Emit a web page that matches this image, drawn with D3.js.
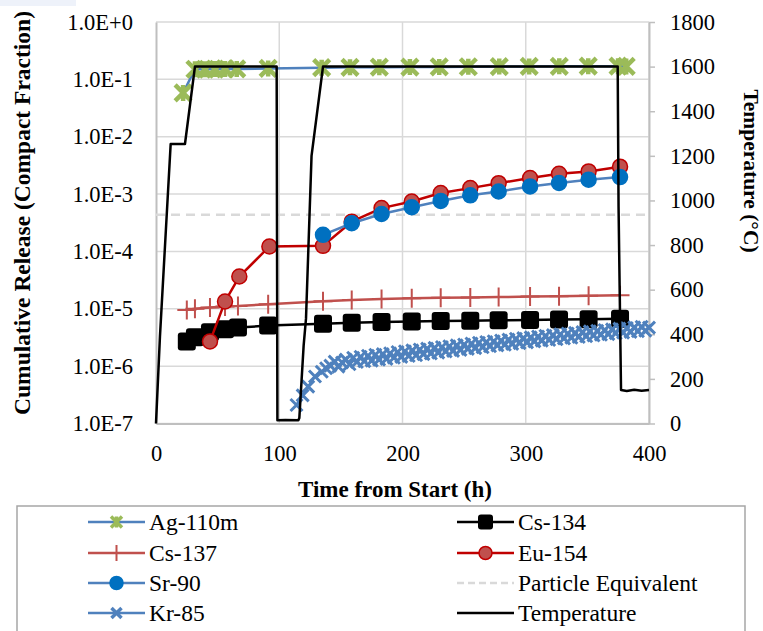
<!DOCTYPE html>
<html>
<head>
<meta charset="utf-8">
<script src="https://cdn.jsdelivr.net/npm/d3@7/dist/d3.min.js"></script>
<style>
  html, body { margin: 0; padding: 0; background: #fff; }
  svg { display: block; }
  text { font-family: "Liberation Serif", "DejaVu Serif", serif; fill: #000; }
</style>
</head>
<body>
<svg id="chart" width="763" height="631"></svg>
<script>
// ---- tick values ----
const timeTicks = [0, 100, 200, 300, 400];
const releaseTicks = [1e-7, 1e-6, 1e-5, 1e-4, 1e-3, 1e-2, 1e-1, 1e0];
const tempTicks = [0, 200, 400, 600, 800, 1000, 1200, 1400, 1600, 1800];

// ---- release series (cumulative compact fraction) ----
const ag110mTime  = [22, 31.6, 39.8, 47.9, 56, 65.5, 91, 134.4, 157.4, 181.2, 206, 229.8, 253.4, 278.5, 302.8, 327.2, 350.7, 374.9, 381.5];
const ag110mValue = [0.058, 0.15, 0.15, 0.151, 0.152, 0.152, 0.155, 0.16, 0.162, 0.163, 0.164, 0.165, 0.166, 0.167, 0.168, 0.169, 0.17, 0.17, 0.168];

const cs134Time  = [25, 31.6, 43.8, 56, 66.5, 91, 135.5, 158.8, 183, 207.5, 231, 255, 278, 303.5, 327, 351, 376.5];
const cs134Value = [2.7e-6, 3.2e-6, 3.9e-6, 4.4e-6, 4.7e-6, 5.1e-6, 5.5e-6, 5.7e-6, 5.9e-6, 6.0e-6, 6.1e-6, 6.2e-6, 6.3e-6, 6.4e-6, 6.5e-6, 6.6e-6, 6.7e-6];

const cs137Time  = [25, 31.6, 43.8, 56, 66.5, 91, 135.5, 158.8, 183, 207.5, 231, 255, 278, 303.5, 327, 351, 376.5];
const cs137Value = [9.5e-6, 1.0e-5, 1.05e-5, 1.1e-5, 1.12e-5, 1.2e-5, 1.35e-5, 1.42e-5, 1.48e-5, 1.52e-5, 1.55e-5, 1.58e-5, 1.6e-5, 1.63e-5, 1.66e-5, 1.68e-5, 1.72e-5];

const eu154Time  = [43.8, 56, 67.6, 92, 135.5, 158.8, 183, 207.5, 231, 255, 278, 303.5, 327, 351, 376.5];
const eu154Value = [2.7e-6, 1.34e-5, 3.65e-5, 1.22e-4, 1.25e-4, 3.3e-4, 5.7e-4, 7.4e-4, 1.04e-3, 1.27e-3, 1.55e-3, 1.9e-3, 2.26e-3, 2.48e-3, 3.0e-3];

const sr90Time  = [135.5, 158.8, 183, 207.5, 231, 255, 278, 303.5, 327, 351, 376.5];
const sr90Value = [1.95e-4, 3.1e-4, 4.5e-4, 5.9e-4, 7.6e-4, 9.5e-4, 1.11e-3, 1.36e-3, 1.56e-3, 1.78e-3, 1.98e-3];

const particleEquivTime  = [0, 400];
const particleEquivValue = [4.35e-4, 4.35e-4];

const kr85Time = [114, 119, 123.5, 129, 134.5, 138, 141.5, 145, 148, 151, 154, 157, 160, 163, 166, 169, 172, 175, 178, 181,
  184, 187, 190, 193, 196, 199, 202, 205, 208, 211, 214, 217, 220, 223, 226, 229, 232, 235, 238, 241,
  244, 247, 250, 253, 256, 259, 262, 265, 268, 271, 274, 277, 280, 283, 286, 289, 292, 295, 298, 301,
  304, 307, 310, 313, 316, 319, 322, 325, 328, 331, 334, 337, 340, 343, 346, 349, 352, 355, 358, 361,
  364, 367, 370, 373, 376, 379, 382, 385, 388, 391, 394, 397, 400];
// values in units of 1e-6
const kr85Micro = [0.21, 0.31, 0.44, 0.66, 0.80, 0.92, 1.02, 1.20, 0.98, 1.16, 1.30, 1.08, 1.40, 1.18, 1.46, 1.22, 1.52, 1.25, 1.58, 1.30,
  1.62, 1.34, 1.68, 1.40, 1.76, 1.45, 1.82, 1.50, 1.88, 1.55, 1.95, 1.62, 2.02, 1.66, 2.08, 1.72, 2.16, 1.80, 2.22, 1.85,
  2.30, 1.92, 2.38, 2.00, 2.48, 2.06, 2.56, 2.14, 2.64, 2.22, 2.72, 2.30, 2.80, 2.36, 2.90, 2.44, 3.00, 2.52, 3.08, 2.60,
  3.18, 2.70, 3.28, 2.78, 3.38, 2.86, 3.48, 2.95, 3.60, 3.04, 3.70, 3.12, 3.80, 3.22, 3.92, 3.32, 4.04, 3.42, 4.14, 3.52,
  4.26, 3.62, 4.38, 3.74, 4.50, 3.84, 4.62, 3.95, 4.74, 4.06, 4.86, 4.15, 4.70];

// ---- furnace temperature (secondary axis, °C) ----
const tempTime  = [0, 3.2, 11.9, 23.5, 31.6, 97.9, 98.5, 105, 115.5, 116.3, 119.8, 121.7, 126.2, 135.5, 374.6, 375.3, 377.3, 382, 388, 394, 400];
const tempValue = [0, 389, 1253, 1253, 1600, 1600, 15, 16, 15, 25, 350, 470, 1200, 1600, 1600, 972, 150, 146, 151, 147, 150];

const legendLabels = ["Ag-110m", "Cs-134", "Cs-137", "Eu-154", "Sr-90", "Particle Equivalent", "Kr-85", "Temperature"];

// ---- layout ----
const svg = d3.select("#chart");
const plotL = 156, plotR = 649, plotT = 22, plotB = 423.5;
const FONT = '"Liberation Serif", "DejaVu Serif", serif';

const x = d3.scaleLinear().domain([0, 400]).range([plotL, plotR]);
const y = d3.scaleLog().domain([1e-7, 1]).range([plotB, plotT]);
const yT = d3.scaleLinear().domain([0, 1800]).range([plotB, plotT]);

svg.append("rect").attr("width", 763).attr("height", 631).attr("fill", "#fff");
svg.append("rect").attr("x", 0).attr("y", 0).attr("width", 76).attr("height", 6).attr("fill", "#eef2fa");

// gridlines
const grid = svg.append("g").attr("stroke", "#d9d9d9").attr("stroke-width", 1.5);
grid.selectAll("line.h").data(releaseTicks).join("line").attr("class", "h")
  .attr("x1", plotL).attr("x2", plotR).attr("y1", d => y(d)).attr("y2", d => y(d));
grid.selectAll("line.v").data(timeTicks.slice(1)).join("line").attr("class", "v")
  .attr("x1", d => x(d)).attr("x2", d => x(d)).attr("y1", plotT).attr("y2", plotB);

// axes
const fmtExp = d => {
  const e = Math.round(Math.log10(d));
  return "1.0E" + (e >= 0 ? "+" + e : String(e));
};
const gL = svg.append("g").attr("transform", `translate(${plotL},0)`)
  .call(d3.axisLeft(y).tickValues(releaseTicks).tickFormat(fmtExp).tickSize(0).tickPadding(23));
const gB = svg.append("g").attr("transform", `translate(0,${plotB})`)
  .call(d3.axisBottom(x).tickValues(timeTicks).tickFormat(d3.format("d")).tickSize(0).tickPadding(22));
const gR = svg.append("g").attr("transform", `translate(${plotR},0)`)
  .call(d3.axisRight(yT).tickValues(tempTicks).tickFormat(d3.format("d")).tickSizeInner(6).tickSizeOuter(0).tickPadding(15));
[gL, gB, gR].forEach(g => {
  g.attr("font-family", FONT);
  g.select(".domain").attr("stroke", "#bfbfbf").attr("stroke-width", 2);
  g.selectAll(".tick line").attr("stroke", "#bfbfbf").attr("stroke-width", 1.5);
  g.selectAll("text").style("font-family", FONT).attr("font-size", 22.5).attr("fill", "#000");
});
gB.selectAll("text").attr("dy", "0.71em");

// axis titles
svg.append("text").attr("x", 395).attr("y", 497).attr("text-anchor", "middle").style("font-family", FONT)
  .attr("font-size", 23).attr("font-weight", "bold").text("Time from Start (h)");
svg.append("text").attr("transform", "translate(30,213) rotate(-90)").attr("text-anchor", "middle").style("font-family", FONT)
  .attr("font-size", 23.5).attr("font-weight", "bold").text("Cumulative Release (Compact Fraction)");
svg.append("text").attr("transform", "translate(744,171) rotate(90)").attr("text-anchor", "middle").style("font-family", FONT)
  .attr("font-size", 21.5).attr("font-weight", "bold").text("Temperature (°C)");

// ---- marker drawers ----
function starMark(g, cx, cy, s, color, sw) {
  g.append("path").attr("d", `M${cx - s},${cy - s}L${cx + s},${cy + s}M${cx - s},${cy + s}L${cx + s},${cy - s}M${cx},${cy - s}L${cx},${cy + s}`)
    .attr("stroke", color).attr("stroke-width", sw).attr("fill", "none");
}
function xMark(g, cx, cy, s, color, sw) {
  g.append("path").attr("d", `M${cx - s},${cy - s}L${cx + s},${cy + s}M${cx - s},${cy + s}L${cx + s},${cy - s}`)
    .attr("stroke", color).attr("stroke-width", sw).attr("fill", "none");
}
function plusMark(g, cx, cy, s, color, sw) {
  g.append("path").attr("d", `M${cx - s},${cy}L${cx + s},${cy}M${cx},${cy - s}L${cx},${cy + s}`)
    .attr("stroke", color).attr("stroke-width", sw).attr("fill", "none");
}
function squareMark(g, cx, cy, s) {
  g.append("rect").attr("x", cx - s).attr("y", cy - s).attr("width", 2 * s).attr("height", 2 * s)
    .attr("rx", 3).attr("fill", "#000");
}
function circleMark(g, cx, cy, r, fill, stroke) {
  g.append("circle").attr("cx", cx).attr("cy", cy).attr("r", r).attr("fill", fill)
    .attr("stroke", stroke).attr("stroke-width", 1.5);
}

const line = d3.line().x(d => x(d[0])).y(d => y(d[1]));
const zip = (a, b) => a.map((t, i) => [t, b[i]]);
const plot = svg.append("g");

// particle equivalent
plot.append("path").datum(zip(particleEquivTime, particleEquivValue)).attr("d", line)
  .attr("fill", "none").attr("stroke", "#d9d9d9").attr("stroke-width", 2.5).attr("stroke-dasharray", "9,6");

// Ag-110m
const agData = zip(ag110mTime, ag110mValue);
plot.append("path").datum(agData).attr("d", line).attr("fill", "none").attr("stroke", "#4f81bd").attr("stroke-width", 2.5);
agData.forEach(d => starMark(plot, x(d[0]), y(d[1]), 8, "#9bbb59", 4.5));

// Cs-134
const cs134Data = zip(cs134Time, cs134Value);
plot.append("path").datum(cs134Data).attr("d", line).attr("fill", "none").attr("stroke", "#000").attr("stroke-width", 2.5);
cs134Data.forEach(d => squareMark(plot, x(d[0]), y(d[1]), 9));

// Cs-137
const cs137Data = zip(cs137Time, cs137Value);
plot.append("path").datum(cs137Data).attr("d", line).attr("fill", "none").attr("stroke", "#c0504d").attr("stroke-width", 2.5);
cs137Data.forEach(d => plusMark(plot, x(d[0]), y(d[1]), 9.5, "#c0504d", 2));

// Eu-154
const euData = zip(eu154Time, eu154Value);
plot.append("path").datum(euData).attr("d", line).attr("fill", "none").attr("stroke", "#c00000").attr("stroke-width", 2.5);
euData.forEach(d => circleMark(plot, x(d[0]), y(d[1]), 7.5, "#c0504d", "#c00000"));

// Sr-90
const srData = zip(sr90Time, sr90Value);
plot.append("path").datum(srData).attr("d", line).attr("fill", "none").attr("stroke", "#4f81bd").attr("stroke-width", 2.5);
srData.forEach(d => circleMark(plot, x(d[0]), y(d[1]), 7.5, "#0070c0", "#0070c0"));

// Kr-85
const krData = kr85Time.map((t, i) => [t, kr85Micro[i] * 1e-6]);
plot.append("path").datum(krData).attr("d", line).attr("fill", "none").attr("stroke", "#4f81bd").attr("stroke-width", 2.5);
krData.forEach(d => xMark(plot, x(d[0]), y(d[1]), 6, "#4f81bd", 3));

// Temperature on the secondary axis
const tLine = d3.line().x(d => x(d[0])).y(d => yT(d[1]));
plot.append("path").datum(zip(tempTime, tempValue)).attr("d", tLine)
  .attr("fill", "none").attr("stroke", "#000").attr("stroke-width", 2.5).attr("stroke-linejoin", "round");

// ---- legend ----
svg.append("rect").attr("x", 17).attr("y", 506).attr("width", 728).attr("height", 150)
  .attr("fill", "#fff").attr("stroke", "#a6a6a6").attr("stroke-width", 1.5);
const lg = svg.append("g");
const rowsY = [522, 553, 583, 613];
const colX = [[88, 145, 149], [457, 514, 518]];
const legendStyle = [
  { color: "#4f81bd", mark: (g, cx, cy) => starMark(g, cx, cy, 5.5, "#9bbb59", 3.5) },
  { color: "#000", mark: (g, cx, cy) => squareMark(g, cx, cy, 7.5) },
  { color: "#c0504d", mark: (g, cx, cy) => plusMark(g, cx, cy, 8, "#c0504d", 2) },
  { color: "#c00000", mark: (g, cx, cy) => circleMark(g, cx, cy, 6.5, "#c0504d", "#c00000") },
  { color: "#4f81bd", mark: (g, cx, cy) => circleMark(g, cx, cy, 6.5, "#0070c0", "#0070c0") },
  { color: "#d9d9d9", dash: "7,4", mark: null },
  { color: "#4f81bd", mark: (g, cx, cy) => xMark(g, cx, cy, 5, "#4f81bd", 3.5) },
  { color: "#000", mark: null }
];
legendLabels.forEach((label, i) => {
  const col = colX[i % 2], cy = rowsY[Math.floor(i / 2)];
  const st = legendStyle[i];
  lg.append("line").attr("x1", col[0]).attr("x2", col[1]).attr("y1", cy).attr("y2", cy)
    .attr("stroke", st.color).attr("stroke-width", 2.5).attr("stroke-dasharray", st.dash || null);
  if (st.mark) st.mark(lg, (col[0] + col[1]) / 2, cy);
  lg.append("text").attr("x", col[2]).attr("y", cy).attr("dy", "0.35em").style("font-family", FONT)
    .attr("font-size", 23.5).text(label);
});
</script>
</body>
</html>
